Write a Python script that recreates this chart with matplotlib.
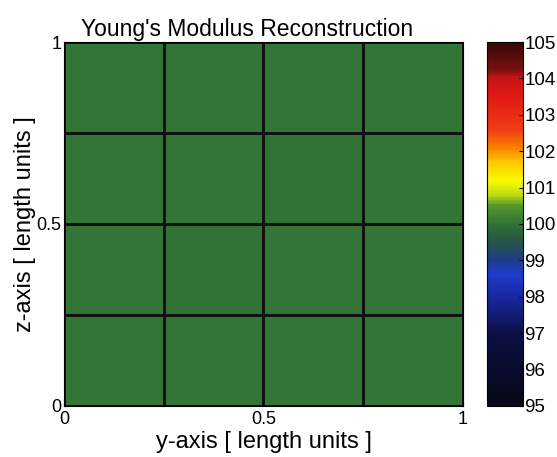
import matplotlib
matplotlib.use('Agg')
import matplotlib.pyplot as plt
import numpy as np
from matplotlib.colors import LinearSegmentedColormap

plt.rcParams['font.family'] = ['Liberation Sans', 'DejaVu Sans']

# element boundaries and reconstructed modulus per element (rows = z, cols = y)
y_edges = [0, 0.25, 0.5, 0.75, 1.0]
z_edges = [0, 0.25, 0.5, 0.75, 1.0]
modulus = [
    [100.02, 100.01, 100.00, 100.02],
    [100.00, 99.99, 100.00, 100.01],
    [100.01, 100.00, 99.99, 100.00],
    [100.02, 100.01, 100.01, 100.02],
]
cbar_ticks = [95, 96, 97, 98, 99, 100, 101, 102, 103, 104, 105]
axis_ticks = [0, 0.5, 1]
axis_ticklabels = ['0', '0.5', '1']

# dark-ended jet-like colormap
stops = [
    (0.00, (8, 8, 22)),
    (0.20, (12, 15, 70)),
    (0.30, (25, 40, 160)),
    (0.36, (30, 60, 205)),
    (0.40, (30, 60, 140)),
    (0.43, (35, 75, 90)),
    (0.47, (40, 95, 60)),
    (0.50, (50, 116, 55)),
    (0.55, (85, 150, 45)),
    (0.58, (190, 220, 20)),
    (0.62, (250, 250, 0)),
    (0.67, (252, 200, 0)),
    (0.71, (250, 130, 0)),
    (0.76, (240, 60, 20)),
    (0.85, (225, 25, 20)),
    (0.905, (195, 20, 20)),
    (0.925, (120, 15, 15)),
    (1.00, (55, 10, 10)),
]
cmap = LinearSegmentedColormap.from_list(
    'darkjet', [(p, tuple(c / 255 for c in rgb)) for p, rgb in stops])

fig = plt.figure(figsize=(5.57, 4.57), dpi=100)
ax = fig.add_axes([0.115, 0.112, 0.716, 0.796])
cax = fig.add_axes([0.874, 0.112, 0.065, 0.796])

mesh = ax.pcolormesh(y_edges, z_edges, np.array(modulus), cmap=cmap,
                     vmin=95, vmax=105, edgecolors='#111111', linewidth=0.8)
ax.set_xlim(0, 1)
ax.set_ylim(0, 1)
ax.set_xticks(axis_ticks)
ax.set_xticklabels(axis_ticklabels)
ax.set_yticks(axis_ticks)
ax.set_yticklabels(axis_ticklabels)
ax.tick_params(direction='in', labelsize=13, length=4)
ax.tick_params(axis='x', pad=4)
ax.tick_params(axis='y', pad=2)
ax.set_title("Young's Modulus Reconstruction", fontsize=16.5, pad=4, x=0.46)
ax.set_xlabel('y-axis [ length units ]', fontsize=17, labelpad=2)
ax.set_ylabel('z-axis [ length units ]', fontsize=17, labelpad=0)

cb = fig.colorbar(mesh, cax=cax)
cb.set_ticks(cbar_ticks)
cb.ax.tick_params(direction='in', labelsize=13.5, length=3, pad=1)
cb.outline.set_linewidth(0.8)

fig.savefig('out.png', dpi=100)
